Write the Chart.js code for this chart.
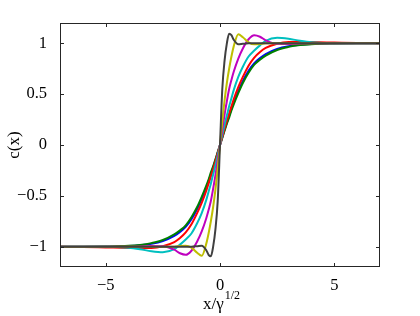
<!DOCTYPE html>
<html>
<head>
<meta charset="utf-8">
<script src="https://cdn.jsdelivr.net/npm/chart.js@4.4.0/dist/chart.umd.min.js"></script>
<style>
html, body { margin: 0; padding: 0; background: #fff; }
</style>
</head>
<body>
<canvas id="chart" width="420" height="316"></canvas>
<script>
// x positions shared by every curve
const xs = [-7, -6, -5, -4, -3.5, -3, -2.5, -2, -1.75, -1.5, -1.25, -1, -0.8, -0.6, -0.5, -0.4, -0.3, -0.2, -0.1, 0,
            0.1, 0.2, 0.3, 0.4, 0.5, 0.6, 0.8, 1, 1.25, 1.5, 1.75, 2, 2.5, 3, 3.5, 4, 5, 6, 7];

// curve values
const cGray = [-1, -1, -1, -1, -1, -1, -1, -1, -1, -1, -1, -0.995, -0.99, -1.035, -1.08, -1.095, -1, -0.83, -0.55, 0,
               0.55, 0.83, 1, 1.095, 1.08, 1.035, 0.99, 0.995, 1, 1, 1, 1, 1, 1, 1, 1, 1, 1, 1];
const cYellow = [-1, -1, -1, -1, -1, -1, -1, -1, -0.993, -0.99, -1.01, -1.06, -1.09, -0.97, -0.87, -0.75, -0.61, -0.44, -0.23, 0,
                 0.23, 0.44, 0.61, 0.75, 0.87, 0.97, 1.09, 1.06, 1.01, 0.99, 0.993, 1, 1, 1, 1, 1, 1, 1, 1];
const cMagenta = [-1, -1, -1, -1, -0.998, -0.993, -0.995, -1.03, -1.065, -1.08, -1.04, -0.95, -0.85, -0.72, -0.64, -0.55, -0.43, -0.3, -0.15, 0,
                  0.15, 0.3, 0.43, 0.55, 0.64, 0.72, 0.85, 0.95, 1.04, 1.08, 1.065, 1.03, 0.995, 0.993, 0.998, 1, 1, 1, 1];
const cCyan = [-1, -1, -1, -1.01, -1.025, -1.045, -1.055, -1.025, -0.98, -0.93, -0.87, -0.77, -0.67, -0.54, -0.46, -0.38, -0.29, -0.2, -0.1, 0,
               0.1, 0.2, 0.29, 0.38, 0.46, 0.54, 0.67, 0.77, 0.87, 0.93, 0.98, 1.025, 1.055, 1.045, 1.025, 1.01, 1, 1, 1];
const cRed = [-1.002, -1.004, -1.008, -1.012, -1.013, -1.012, -0.995, -0.955, -0.915, -0.86, -0.78, -0.67, -0.57, -0.45, -0.38, -0.31, -0.24, -0.16, -0.08, 0,
              0.08, 0.16, 0.24, 0.31, 0.38, 0.45, 0.57, 0.67, 0.78, 0.86, 0.915, 0.955, 0.995, 1.012, 1.013, 1.012, 1.008, 1.004, 1.002];
const cGreen = [-1, -1, -0.998, -0.992, -0.983, -0.965, -0.935, -0.88, -0.84, -0.79, -0.71, -0.61, -0.51, -0.40, -0.34, -0.27, -0.21, -0.14, -0.07, 0,
                0.07, 0.14, 0.21, 0.27, 0.34, 0.40, 0.51, 0.61, 0.71, 0.79, 0.84, 0.88, 0.935, 0.965, 0.983, 0.992, 0.998, 1, 1];
const cBlue = [-1, -1, -0.998, -0.993, -0.986, -0.972, -0.945, -0.895, -0.855, -0.805, -0.73, -0.63, -0.53, -0.42, -0.355, -0.29, -0.22, -0.15, -0.075, 0,
               0.075, 0.15, 0.22, 0.29, 0.355, 0.42, 0.53, 0.63, 0.73, 0.805, 0.855, 0.895, 0.945, 0.972, 0.986, 0.993, 0.998, 1, 1];

const xTicks = [-5, 0, 5];
const yTicks = [-1, -0.5, 0, 0.5, 1];

const FONT = '"Liberation Serif", "Times New Roman", serif';

function pts(ys) {
    return xs.map((x, i) => ({ x: x, y: ys[i] }));
}
function fmt(v) {
    return (v < 0 ? '\u2212' : '') + Math.abs(v);
}

// first dataset ends up on top
const series = [
    { ys: cGray, color: '#404040' },
    { ys: cYellow, color: '#bfbf00' },
    { ys: cMagenta, color: '#bf00bf' },
    { ys: cCyan, color: '#00bfbf' },
    { ys: cRed, color: '#ff0000' },
    { ys: cGreen, color: '#008000' },
    { ys: cBlue, color: '#0000ff' }
];

// box round the plot, ticks pointing inwards, and the x label with its superscript
const boxPlugin = {
    id: 'box',
    afterDatasetsDraw(chart) {
        const ctx = chart.ctx;
        const a = chart.chartArea;
        const sx = chart.scales.x, sy = chart.scales.y;
        const tl = 4;
        ctx.save();
        ctx.strokeStyle = '#262626';
        ctx.lineWidth = 1;
        ctx.strokeRect(a.left + 0.5, a.top + 0.5, a.right - a.left - 1, a.bottom - a.top - 1);
        ctx.beginPath();
        xTicks.forEach(v => {
            const px = Math.round(sx.getPixelForValue(v)) + 0.5;
            ctx.moveTo(px, a.bottom); ctx.lineTo(px, a.bottom - tl);
            ctx.moveTo(px, a.top); ctx.lineTo(px, a.top + tl);
        });
        yTicks.forEach(v => {
            const py = Math.round(sy.getPixelForValue(v)) + 0.5;
            ctx.moveTo(a.left, py); ctx.lineTo(a.left + tl, py);
            ctx.moveTo(a.right, py); ctx.lineTo(a.right - tl, py);
        });
        ctx.stroke();

        ctx.fillStyle = '#000';
        ctx.textBaseline = 'alphabetic';
        ctx.font = '17px ' + FONT;
        const main = 'x/\u03b3';
        const w1 = ctx.measureText(main).width;
        ctx.font = '12px ' + FONT;
        const sup = '1/2';
        const w2 = ctx.measureText(sup).width;
        const cx = (a.left + a.right) / 2;
        const x0 = cx - (w1 + w2) / 2 + 1;
        ctx.font = '17px ' + FONT;
        ctx.fillText(main, x0, 309);
        ctx.font = '12px ' + FONT;
        ctx.fillText(sup, x0 + w1 + 1, 299);
        ctx.restore();
    }
};

new Chart(document.getElementById('chart'), {
    type: 'line',
    data: {
        datasets: series.map(s => ({
            data: pts(s.ys),
            borderColor: s.color,
            backgroundColor: s.color,
            borderWidth: 2,
            pointRadius: 0,
            fill: false,
            cubicInterpolationMode: 'monotone'
        }))
    },
    options: {
        responsive: false,
        animation: false,
        layout: { padding: { top: 23, right: 40, left: 0, bottom: 0 } },
        plugins: {
            legend: { display: false },
            tooltip: { enabled: false }
        },
        scales: {
            x: {
                type: 'linear',
                min: -7,
                max: 7,
                grid: { display: false },
                border: { display: false },
                afterBuildTicks: s => { s.ticks = xTicks.map(v => ({ value: v })); },
                afterFit: s => { s.height = 49; },
                ticks: {
                    color: '#000',
                    padding: 1,
                    maxRotation: 0,
                    font: { family: FONT, size: 16.5 },
                    callback: v => fmt(v)
                }
            },
            y: {
                type: 'linear',
                min: -1.2,
                max: 1.2,
                grid: { display: false },
                border: { display: false },
                afterBuildTicks: s => { s.ticks = yTicks.map(v => ({ value: v })); },
                afterFit: s => { s.width = 60; },
                ticks: {
                    color: '#000',
                    padding: 5,
                    font: { family: FONT, size: 16.5 },
                    callback: v => fmt(v)
                },
                title: {
                    display: true,
                    text: 'c(x)',
                    color: '#000',
                    padding: { top: 4, bottom: 4 },
                    font: { family: FONT, size: 17 }
                }
            }
        }
    },
    plugins: [boxPlugin]
});
</script>
</body>
</html>
